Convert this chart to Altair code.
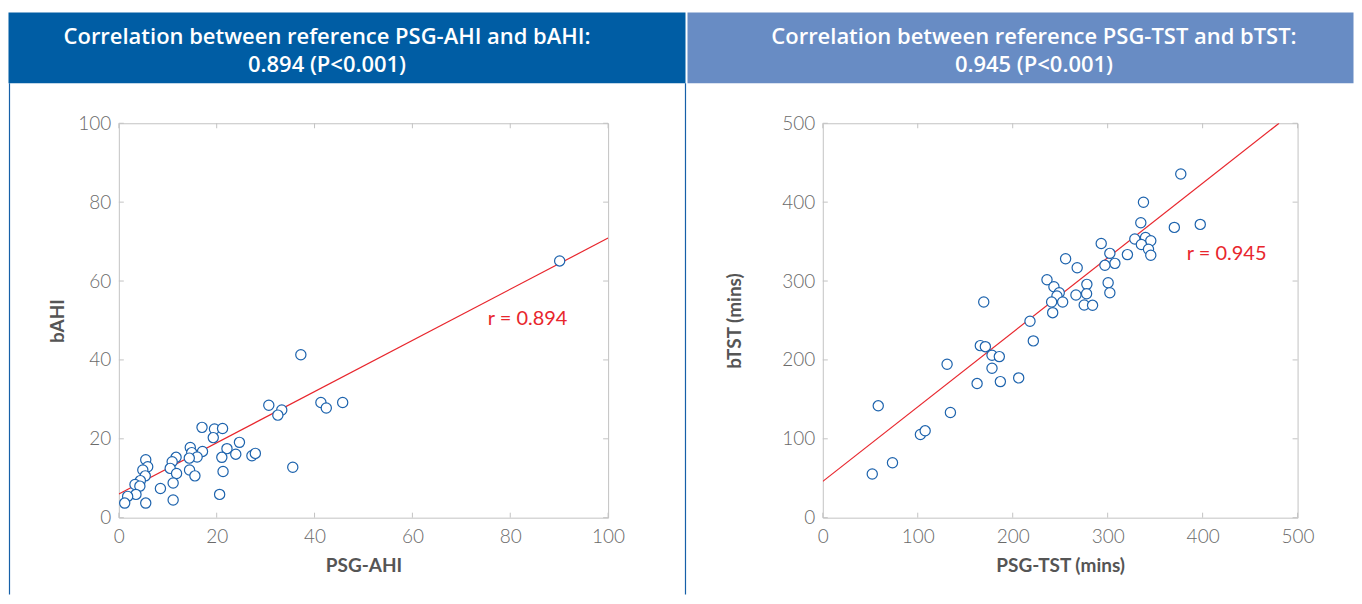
import altair as alt
import pandas as pd

# ---------------- data ----------------
ahi_psg = [30.65, 33.3, 32.5, 41.3, 42.4, 45.75, 17.0, 19.55, 21.2, 19.3, 24.65, 14.6,
           22.1, 17.1, 14.9, 16.0, 14.4, 11.7, 10.9, 10.5, 11.8, 14.45, 15.55, 21.05,
           23.9, 27.2, 27.9, 21.3, 35.55, 5.5, 5.9, 4.9, 5.4, 4.4, 3.3, 4.3, 8.5, 11.1,
           20.6, 11.1, 3.5, 1.8, 1.2, 5.5, 90.1, 37.2]
ahi_b = [28.5, 27.3, 26.0, 29.2, 27.8, 29.2, 22.9, 22.5, 22.6, 20.3, 19.1, 17.8,
         17.5, 16.8, 16.5, 15.4, 15.1, 15.3, 14.2, 12.5, 11.2, 12.1, 10.6, 15.3,
         16.1, 15.7, 16.3, 11.7, 12.8, 14.7, 12.9, 12.1, 10.6, 9.4, 8.4, 8.0, 7.4, 8.8,
         5.9, 4.5, 5.9, 5.4, 3.7, 3.7, 65.1, 41.3]

tst_psg = [169.5, 236.1, 243.4, 249.0, 246.6, 241.0, 252.6, 242.1, 218.2, 221.7, 165.9,
           171.2, 178.2, 185.9, 130.9, 178.2, 162.5, 187.0, 206.3, 58.4, 134.4, 102.8,
           107.8, 73.4, 52.1, 255.7, 267.9, 266.6, 278.1, 277.8, 275.3, 284.1, 300.5,
           302.3, 293.2, 302.3, 307.6, 297.1, 320.8, 328.6, 339.9, 345.4, 335.5, 343.0,
           345.4, 334.9, 337.7, 377.0, 370.2, 397.5]
tst_b = [273.4, 301.6, 292.8, 285.2, 281.0, 273.4, 273.4, 259.9, 249.1, 224.1, 218.1,
         216.8, 206.0, 204.2, 194.5, 189.5, 170.0, 172.5, 177.2, 141.8, 133.3, 105.4,
         110.1, 69.6, 55.3, 328.2, 316.8, 282.3, 295.8, 283.9, 269.6, 269.2, 297.8,
         285.2, 347.6, 335.1, 322.4, 319.9, 333.5, 353.2, 355.2, 351.0, 346.3, 340.3,
         332.7, 373.9, 399.9, 435.6, 368.0, 371.8]

# regression line end points
ahi_fit_x = [0, 100]
ahi_fit_y = [6.0, 70.9]
tst_fit_x = [0, 480.5]
tst_fit_y = [46.0, 500.0]

ahi_ticks = [0, 20, 40, 60, 80, 100]
tst_ticks = [0, 100, 200, 300, 400, 500]

ahi_r_label = {"x": 75.4, "y": 50.4, "t": "r = 0.894"}
tst_r_label = {"x": 383.3, "y": 334.0, "t": "r = 0.945"}

headers = [
    ["Correlation between reference PSG-AHI and bAHI:", "0.894 (P<0.001)"],
    ["Correlation between reference PSG-TST and bTST:", "0.945 (P<0.001)"],
]
x_titles = ["PSG-AHI", "PSG-TST (mins)"]
y_titles = ["bAHI", "bTST (mins)"]

# ---------------- styles ----------------
BLUE_PT = "#1d63ad"
RED = "#e8262d"
FRAME = "#c3c3c3"
FONT = "Lato"
HFONT = "Open Sans"


def panel(px, py, fx, fy, ticks, rlab, header, xt, yt, W, H,
          hx0, hx1, hcol, text_cx, ytitle_pad, borders):
    dom = [ticks[0], ticks[-1]]
    xs = alt.Scale(domain=dom, nice=False, zero=False)
    ys = alt.Scale(domain=dom, nice=False, zero=False)
    xax = alt.Axis(values=ticks, title=xt, domain=False, ticks=False, grid=False,
                   labelFlush=False, labelOverlap=False,
                   labelFont=FONT, labelFontSize=19, labelFontWeight=300,
                   labelColor="#6a6a6a", labelPadding=10,
                   titleFont=FONT, titleFontSize=19, titleFontWeight="bold",
                   titleColor="#555555", titlePadding=10)
    yax = alt.Axis(values=ticks, title=yt, domain=False, ticks=False, grid=False,
                   labelFlush=False, labelOverlap=False,
                   labelFont=FONT, labelFontSize=19, labelFontWeight=300,
                   labelColor="#6a6a6a", labelPadding=8,
                   titleFont=FONT, titleFontSize=19, titleFontWeight="bold",
                   titleColor="#555555", titlePadding=ytitle_pad)
    X = lambda: alt.X("x:Q", scale=xs, axis=xax)
    Y = lambda: alt.Y("y:Q", scale=ys, axis=yax)

    pts = pd.DataFrame({"x": px, "y": py})
    fit = pd.DataFrame({"x": fx, "y": fy})
    tk_x = pd.DataFrame({"x": ticks})
    tk_y = pd.DataFrame({"y": ticks})
    lab = pd.DataFrame([rlab])

    line = alt.Chart(fit).mark_line(color=RED, strokeWidth=1.2, clip=True).encode(x=X(), y=Y())
    points = alt.Chart(pts).mark_point(shape="circle", filled=True, fill="white",
                                       stroke=BLUE_PT, strokeWidth=1.2, size=105,
                                       opacity=1).encode(x=X(), y=Y())
    rtext = alt.Chart(lab).mark_text(font=FONT, fontSize=20, color=RED, align="left",
                                     baseline="middle").encode(x=X(), y=Y(), text="t:N")
    tb = alt.Chart(tk_x).mark_rule(color=FRAME, strokeWidth=1).encode(
        x=X(), y=alt.value(H), y2=alt.value(H - 5))
    tt = alt.Chart(tk_x).mark_rule(color=FRAME, strokeWidth=1).encode(
        x=X(), y=alt.value(0), y2=alt.value(5))
    tl = alt.Chart(tk_y).mark_rule(color=FRAME, strokeWidth=1).encode(
        y=Y(), x=alt.value(0), x2=alt.value(5))
    tr = alt.Chart(tk_y).mark_rule(color=FRAME, strokeWidth=1).encode(
        y=Y(), x=alt.value(W), x2=alt.value(W - 5))

    one = alt.Data(values=[{}])
    hrect = alt.Chart(one).mark_rect(color=hcol).encode(
        x=alt.value(hx0), x2=alt.value(hx1), y=alt.value(-111), y2=alt.value(-40))
    h1 = alt.Chart(one).mark_text(font=HFONT, fontSize=22, fontWeight=600, color="white",
                                  align="center", baseline="alphabetic").encode(
        x=alt.value(text_cx), y=alt.value(-79), text=alt.value(header[0]))
    h2 = alt.Chart(one).mark_text(font=HFONT, fontSize=22, fontWeight=600, color="white",
                                  align="center", baseline="alphabetic").encode(
        x=alt.value(text_cx), y=alt.value(-51), text=alt.value(header[1]))
    layers = [hrect, h1, h2, tb, tt, tl, tr, line, points, rtext]
    for bx in borders:
        layers.append(alt.Chart(one).mark_rule(color="#1660a8", strokeWidth=1.2).encode(
            x=alt.value(bx), y=alt.value(-40), y2=alt.value(472)))
    return alt.layer(*layers).properties(width=W, height=H)


left = panel(ahi_psg, ahi_b, ahi_fit_x, ahi_fit_y, ahi_ticks, ahi_r_label, headers[0],
             x_titles[0], y_titles[0], 490, 395,
             -110.5, 567.5, "#005da4", 208.5, 10, [-109.5, 567.5])
right = panel(tst_psg, tst_b, tst_fit_x, tst_fit_y, tst_ticks, tst_r_label, headers[1],
              x_titles[1], y_titles[1], 475.5, 395,
              -135.5, 531.5, "#688cc4", 211.5, 37, [])

chart = alt.hconcat(left, right, spacing=0).properties(
    padding={"left": 0, "top": 3, "right": 0, "bottom": 0}
).configure_view(stroke=FRAME, strokeWidth=1).configure_concat(spacing=0)

chart.save("out.html", embed_options={"renderer": "svg", "actions": False})
